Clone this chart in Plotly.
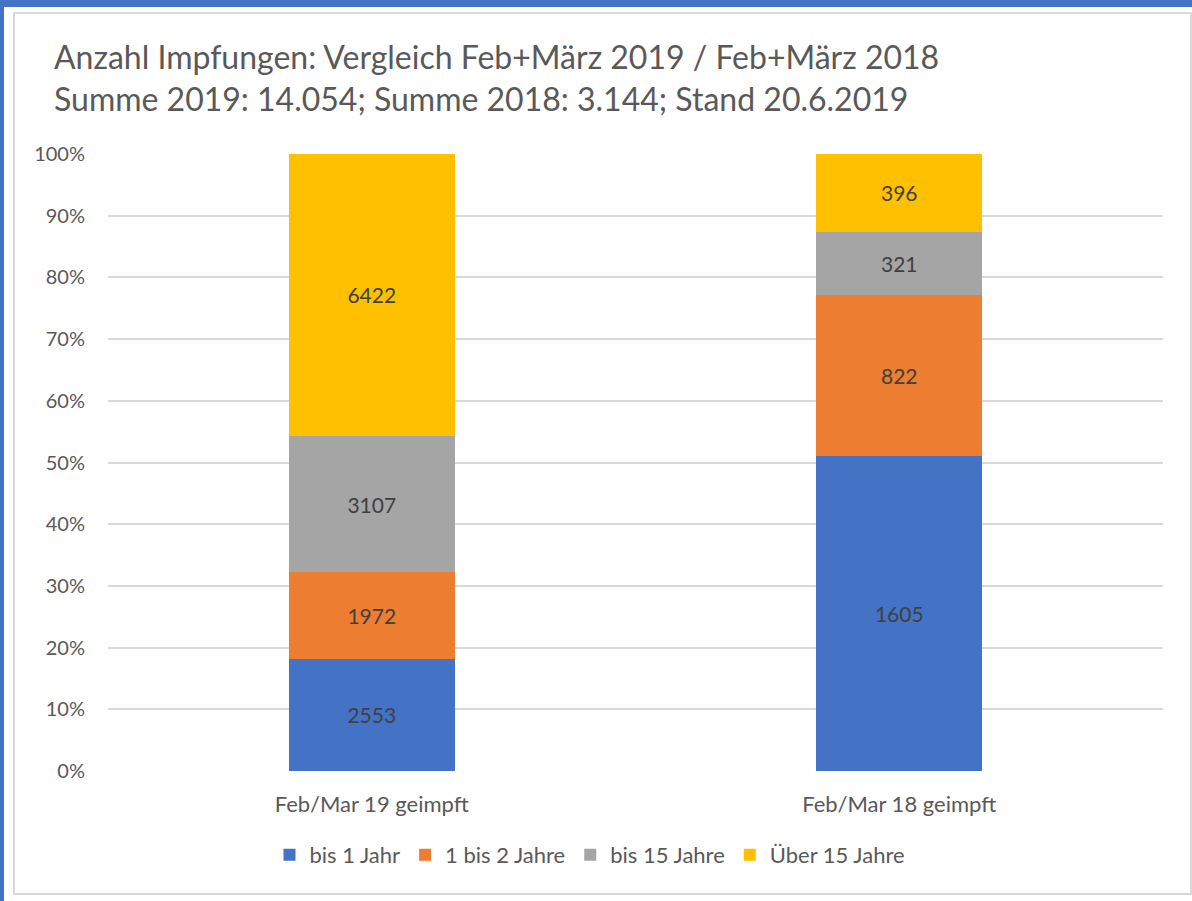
import plotly.graph_objects as go

categories = ["Feb/Mar 19 geimpft", "Feb/Mar 18 geimpft"]
series_names = ["bis 1 Jahr", "1 bis 2 Jahre", "bis 15 Jahre", "Über 15 Jahre"]
bis_1_jahr = [2553, 1605]
bis_2_jahre = [1972, 822]
bis_15_jahre = [3107, 321]
ueber_15_jahre = [6422, 396]
tick_values = [0, 10, 20, 30, 40, 50, 60, 70, 80, 90, 100]
tick_labels = [f"{v}%" for v in tick_values]

colors = ["#4472C4", "#ED7D31", "#A5A5A5", "#FFC000"]
FONT = "Lato, Calibri, Arial, sans-serif"

W, H = 1192, 901
L, R, T, B = 108, 29, 154, 130
pw, ph = W - L - R, H - T - B


def px_x(x):
    return (x - L) / pw


def px_y(y):
    return (H - B - y) / ph


fig = go.Figure()
for name, vals, col in zip(series_names,
                           [bis_1_jahr, bis_2_jahre, bis_15_jahre, ueber_15_jahre],
                           colors):
    fig.add_trace(go.Bar(
        name=name,
        x=categories,
        y=vals,
        text=[str(v) for v in vals],
        textposition="inside",
        insidetextanchor="middle",
        textangle=0,
        textfont=dict(family=FONT, size=21, color="#404040"),
        marker=dict(color=col, line=dict(width=0)),
        hoverinfo="skip",
    ))

shapes = [
    # blue screenshot edges
    dict(type="rect", xref="paper", yref="paper", layer="below",
         x0=px_x(0), x1=px_x(W), y0=px_y(0), y1=px_y(7),
         fillcolor="#4472C4", line=dict(width=0)),
    dict(type="rect", xref="paper", yref="paper", layer="below",
         x0=px_x(0), x1=px_x(4), y0=px_y(0), y1=px_y(H),
         fillcolor="#4472C4", line=dict(width=0)),
    # chart frame
    dict(type="rect", xref="paper", yref="paper", layer="below",
         x0=px_x(14), x1=px_x(1191), y0=px_y(13), y1=px_y(894),
         fillcolor="white", line=dict(color="#D9D9D9", width=2)),
]

fig.update_layout(
    width=W,
    height=H,
    barmode="stack",
    barnorm="percent",
    bargap=0.685,
    margin=dict(l=L, r=R, t=T, b=B),
    paper_bgcolor="white",
    plot_bgcolor="rgba(0,0,0,0)",
    font=dict(family=FONT, color="#595959"),
    title=dict(
        text="Anzahl Impfungen: Vergleich Feb+März 2019 / Feb+März 2018<br>"
             "Summe 2019: 14.054; Summe 2018: 3.144; Stand 20.6.2019",
        font=dict(family=FONT, size=32, color="#595959"),
        xref="container", x=54 / W, xanchor="left",
        yref="container", y=1 - 69 / H, yanchor="top",
    ),
    xaxis=dict(
        showgrid=False,
        showline=False,
        ticks="",
        ticklabelstandoff=18,
        tickfont=dict(family=FONT, size=22, color="#595959"),
    ),
    yaxis=dict(
        range=[0, 100],
        tickvals=tick_values,
        ticktext=tick_labels,
        showgrid=True,
        gridcolor="#D9D9D9",
        gridwidth=2,
        zeroline=False,
        showline=False,
        ticks="",
        ticklabelstandoff=22,
        tickfont=dict(family=FONT, size=20, color="#595959"),
    ),
    legend=dict(
        orientation="h",
        xref="container", x=590 / W, xanchor="center",
        yref="container", y=1 - 855 / H, yanchor="middle",
        font=dict(family=FONT, size=22, color="#595959"),
        itemwidth=30,
        traceorder="normal",
    ),
    shapes=shapes,
    showlegend=True,
)

fig.write_html("out.html", config={"displayModeBar": False},
               post_script="document.body.style.margin='0';")
